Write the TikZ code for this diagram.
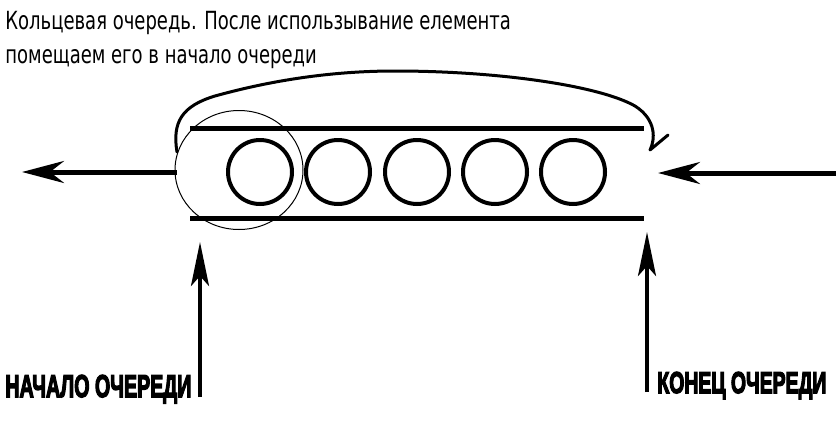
\documentclass[tikz,border=0pt]{standalone}
\usepackage{fontspec}
\usetikzlibrary{arrows.meta,shapes.geometric}
\newfontfamily\topfont[FakeStretch=0.72]{DejaVu Sans}
\newfontfamily\heavyfont[FakeBold=5]{Liberation Sans Bold}
\begin{document}
\begin{tikzpicture}[x=0.5pt,y=-0.5pt,
  tube/.style={line width=2.5pt},
  ball/.style={circle,draw,line width=2pt,minimum size=32pt,inner sep=0pt},
  ring/.style={ellipse,draw,line width=0.5pt,minimum width=64pt,minimum height=59.5pt,inner sep=0pt},
  bigarrow/.style={line width=2.5pt,-{Stealth[length=21pt,width=11pt,inset=7pt]}},
  uparrow/.style={line width=2pt,-{Stealth[length=22pt,width=9pt,inset=5pt]}},
  loop/.style={line width=1.5pt,line cap=round,line join=round},
  toptext/.style={anchor=base west,inner sep=0pt,font=\topfont\fontsize{12.5pt}{14pt}\selectfont},
  heavy/.style={anchor=base west,inner sep=0pt}
]
\useasboundingbox (0,0) rectangle (839,423);
\fill[white] (0,0) rectangle (839,423);

\node[toptext] (t1) at (5,29) {Кольцевая очередь. После использывание елемента};
\node[toptext] (t2) at (5,63) {помещаем его в начало очереди};

% tube
\coordinate (ta) at (190,128); \coordinate (tb) at (644,128);
\coordinate (ba) at (190,218); \coordinate (bb) at (644,218);
\draw[tube] (ta) -- (tb);
\draw[tube] (ba) -- (bb);

% balls
\node[ball] (c1) at (260,172) {};
\node[ball] (c2) at (338,172) {};
\node[ball] (c3) at (417,172) {};
\node[ball] (c4) at (495,172) {};
\node[ball] (c5) at (573,172) {};

% thin ring
\node[ring] (ring) at (239,170) {};

% loop arrow
\coordinate (ls) at (177,152);
\coordinate (le) at (650,150);
\coordinate (lt) at (668,135);
\draw[loop] (ls) .. controls (172,122) and (182,106) .. (215,96)
  .. controls (280,78) and (340,71) .. (395,71)
  .. controls (500,71) and (600,86) .. (635,106)
  .. controls (657,120) and (655,140) .. (le) -- (lt);

% side arrows
\coordinate (outs) at (177,172); \coordinate (oute) at (22,172);
\draw[bigarrow] (outs) -- (oute);
\coordinate (ins) at (836,173); \coordinate (ine) at (658,173);
\draw[bigarrow] (ins) -- (ine);

% labels and up arrows
\node[heavy] (lh) at (5,397) {\resizebox{93pt}{11pt}{\heavyfont НАЧАЛО ОЧЕРЕДИ}};
\node[heavy] (lk) at (657,393) {\resizebox{84.5pt}{10.5pt}{\heavyfont КОНЕЦ ОЧЕРЕДИ}};
\coordinate (ha) at (200,397); \coordinate (hb) at (200,242);
\draw[uparrow] (ha) -- (hb);
\coordinate (ka) at (647,392); \coordinate (kb) at (647,232);
\draw[uparrow] (ka) -- (kb);
\end{tikzpicture}
\end{document}
